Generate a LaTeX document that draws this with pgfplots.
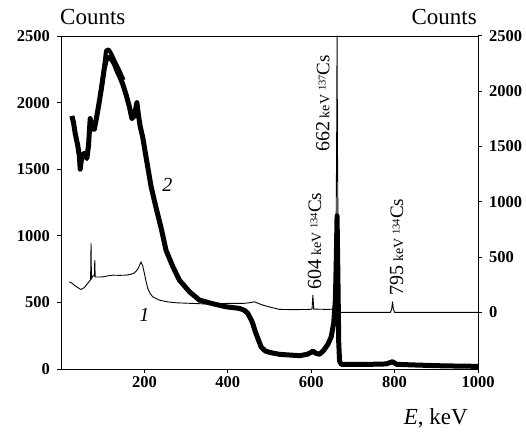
\documentclass[border=0pt]{standalone}
\usepackage{fontspec}
\setmainfont{Liberation Serif}
\usepackage{pgfplots}
\pgfplotsset{compat=1.18}
\newcommand\ann[2]{{\fontsize{20}{20}\selectfont #1}\hspace{3.5pt}{\fontsize{14}{14}\selectfont keV}\hspace{4pt}\raisebox{0.8ex}{\fontsize{10.5}{10.5}\selectfont #2}{\fontsize{19}{19}\selectfont Cs}}
\begin{document}
\begin{tikzpicture}[x=1pt,y=1pt]
\useasboundingbox (-61,-62) rectangle (465,369);
\pgfplotsset{
  common/.style={
    at={(0,0)}, anchor=south west, scale only axis, width=417pt, height=333pt,
    xmin=0, xmax=1000,
    tick align=outside, major tick length=4pt,
    axis line style={line width=1pt},
    every tick/.style={line width=1pt, black},
    ticklabel style={font=\bfseries\fontsize{16.5}{17}\selectfont, inner sep=1pt},
    /pgf/number format/assume math mode=true,
    /pgf/number format/1000 sep={},
  }
}
\begin{axis}[common,
  ymin=0, ymax=2500,
  xtick={200,400,600,800,1000}, ytick={0,500,...,2500},
  xtick pos=bottom, ytick pos=left,
  yticklabel style={xshift=-6pt},
  xticklabel style={yshift=-2pt},
]
\addplot[black, line width=5pt, line join=round] coordinates {
(26,1900) (30,1850) (34,1770) (40,1680) (44,1600) (46,1500) (50,1600) (56,1620) (62,1580) (66,1680) (70,1880) (72,1840) (76,1800) (80,1800) (86,1900) (92,2010) (98,2130) (104,2260) (110,2340) (116,2340) (122,2320) (128,2290) (134,2240) (140,2200) (148,2140) (156,2060) (164,1970) (170,1880) (176,1900) (182,2000) (186,1900) (190,1820) (196,1740) (204,1590) (216,1370) (228,1210) (240,1060) (252,890) (268,770) (284,667) (308,580) (332,517) (364,490) (396,467) (428,455) (440,440) (448,417) (456,370) (460,340) (466,280) (472,230) (480,165) (490,135) (500,125) (524,110) (548,105) (572,100) (590,110) (600,125) (604,135) (610,120) (620,110) (630,140) (640,185) (648,242) (654,345) (658,520) (660,800) (662,1150) (664,700) (666,200) (668,60) (672,35) (700,35) (740,35) (780,38) (795,55) (805,35) (850,30) (900,25) (950,22) (1000,20)
};
\addplot[black, line width=4pt, line join=round] coordinates {
(96,2080) (102,2230) (108,2390) (114,2400) (120,2370) (126,2330) (132,2290) (140,2240) (150,2170)
};
\node[font=\itshape\fontsize{20}{20}\selectfont] at (axis cs:255,1380) {2};
\node[font=\itshape\fontsize{20}{20}\selectfont] at (axis cs:200,405) {1};
\node[rotate=90] at (axis cs:628,1995) {\ann{662}{137}};
\node[rotate=90] at (axis cs:608,960) {\ann{604}{134}};
\node[rotate=90] at (axis cs:805,915) {\ann{795}{134}};
\end{axis}
\begin{axis}[common,
  ymin=-512, ymax=2500,
  axis x line=none, axis y line*=right,
  ytick={0,500,...,2500},
  yticklabel style={xshift=6pt},
]
\addplot[black, line width=0.9pt, line join=round] coordinates {
(20,276) (26,265) (32,246) (40,225) (48,207) (56,225) (64,262) (70,290) (71,300) (72,623) (73,300) (76,330) (80,330) (81,472) (82,320) (90,320) (100,321) (112,330) (124,337) (140,335) (156,337) (168,345) (176,357) (184,390) (192,457) (196,420) (200,352) (204,280) (208,217) (214,170) (220,141) (236,111) (256,95) (276,87) (316,81) (356,75) (396,81) (436,81) (454,88) (464,96) (474,80) (484,66) (504,45) (524,27) (560,25) (596,27) (602,30) (604,156) (606,30) (640,27) (652,30) (656,60) (659,400) (661,1500) (662,2500) (663,1500) (665,300) (668,0) (700,0) (790,0) (793,30) (795,96) (797,30) (800,0) (1000,0)
};
\end{axis}
\node[anchor=west, inner sep=0pt, font=\fontsize{23}{23}\selectfont] at (-1,352) {Counts};
\node[anchor=east, inner sep=0pt, font=\fontsize{23}{23}\selectfont] at (416,352) {Counts};
\node[anchor=east, inner sep=0pt, font=\fontsize{23}{23}\selectfont] at (407,-49) {\textit{E}, keV};
\end{tikzpicture}
\end{document}
